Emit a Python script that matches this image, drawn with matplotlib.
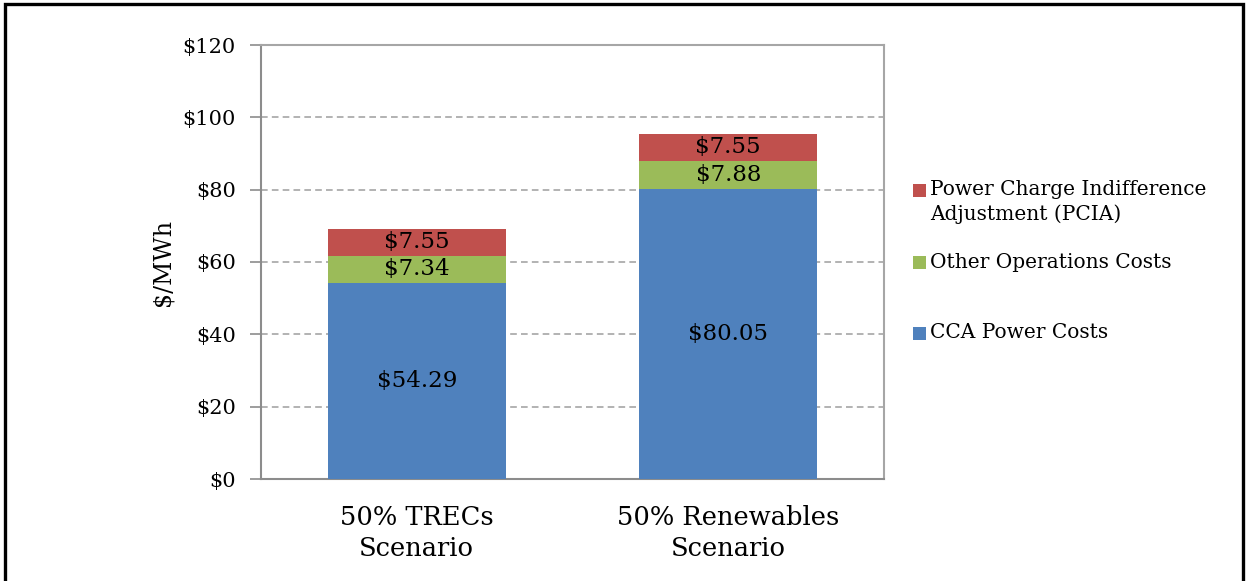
import matplotlib
matplotlib.use("Agg")
import matplotlib.pyplot as plt
from matplotlib.patches import Rectangle
import numpy as np

# Cost components in $/MWh for each scenario
scenarios = ["50% TRECs\nScenario", "50% Renewables\nScenario"]
cca_power = [54.29, 80.05]
other_ops = [7.34, 7.88]
pcia = [7.55, 7.55]

series_labels = ["CCA Power Costs", "Other Operations Costs",
                 "Power Charge Indifference\nAdjustment (PCIA)"]
series_colors = ["#4F81BD", "#9BBB59", "#C0504D"]

y_ticks = [0, 20, 40, 60, 80, 100, 120]

W, H = 1246, 581
plt.rcParams["font.family"] = ["DejaVu Serif"]

fig = plt.figure(figsize=(W / 100, H / 100), dpi=100)
fig.patch.set_facecolor("white")


def fx(px):
    return px / W


def fy(py):
    return 1 - py / H


ax = fig.add_axes([fx(261), fy(479), fx(884) - fx(261), fy(45) - fy(479)])

x = np.arange(len(scenarios))
bar_w = 0.571
bottoms = np.zeros(len(scenarios))
for vals, color in zip([cca_power, other_ops, pcia], series_colors):
    vals = np.array(vals)
    ax.bar(x, vals, bar_w, bottom=bottoms, color=color, zorder=3)
    for xi, b, v in zip(x, bottoms, vals):
        ax.text(xi, b + v / 2, f"${v:.2f}", ha="center", va="center",
                fontsize=16.5, color="black", zorder=4)
    bottoms = bottoms + vals

ax.set_xlim(-0.5, 1.5)
ax.set_ylim(0, 120)
ax.set_yticks(y_ticks)
ax.set_yticklabels([f"${t}" for t in y_ticks], fontsize=15)
ax.set_xticks(x)
ax.set_xticklabels(scenarios, fontsize=18.5, linespacing=1.3)
ax.tick_params(axis="x", length=0, pad=19)
ax.tick_params(axis="y", length=8, width=1.2, color="#8c8c8c", pad=10)

for gy in y_ticks[1:-1]:
    ax.axhline(gy, color="#a6a6a6", linewidth=1.2, linestyle=(0, (4, 2.5)), zorder=1)

for side in ["left", "right", "top", "bottom"]:
    ax.spines[side].set_color("#a6a6a6")
    ax.spines[side].set_linewidth(1.5)
ax.spines["left"].set_color("#8c8c8c")
ax.spines["bottom"].set_color("#8c8c8c")

ax.set_ylabel("$/MWh", fontsize=17, labelpad=6)

# Legend drawn entry by entry (top to bottom: PCIA, Other, CCA)
legend_rows = [(2, 202), (1, 262), (0, 333)]
square_centers = {2: 190, 1: 262, 0: 333}
for idx, ty in legend_rows:
    sq = 13
    cy = square_centers[idx]
    fig.add_artist(Rectangle((fx(913), fy(cy + sq / 2)), fx(sq), sq / H,
                             transform=fig.transFigure, facecolor=series_colors[idx],
                             edgecolor="none"))
    fig.text(fx(930), fy(ty), series_labels[idx], ha="left", va="center",
             fontsize=14.5, linespacing=1.3)

# Outer frame
fig.add_artist(Rectangle((fx(4.5), -0.01), fx(1242.5) - fx(4.5), fy(3.5) + 0.01,
                         transform=fig.transFigure, fill=False,
                         edgecolor="black", linewidth=2.4))

fig.savefig("out.png", dpi=100, facecolor="white")
